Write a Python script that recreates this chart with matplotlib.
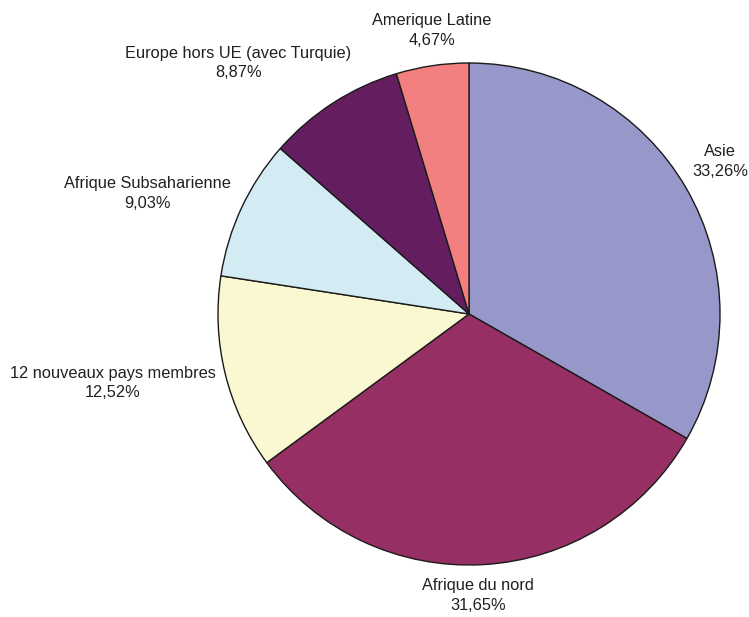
import matplotlib
matplotlib.use("Agg")
import matplotlib.pyplot as plt
import numpy as np

categories = ["Asie", "Afrique du nord", "12 nouveaux pays membres",
              "Afrique Subsaharienne", "Europe hors UE (avec Turquie)", "Amerique Latine"]
values = [33.26, 31.65, 12.52, 9.03, 8.87, 4.67]
value_labels = ["33,26%", "31,65%", "12,52%", "9,03%", "8,87%", "4,67%"]

colors = ["#9797C9", "#963064", "#FAF8D0", "#D3ECF4", "#641E60", "#F28080"]
# label placement style (offset from pie centre, in radius units)
label_pos = [(1.0, 0.606), (0.036, -1.12), (-1.42, -0.275),
             (-1.28, 0.48), (-0.92, 1.0), (-0.147, 1.13)]

plt.rcParams['font.family'] = ['Liberation Sans', 'DejaVu Sans']

W, H = 749, 617
fig = plt.figure(figsize=(W / 100, H / 100), dpi=100)
cx, cy, r = 469, 314, 251
ax = fig.add_axes([(cx - r) / W, (H - cy - r) / H, 2 * r / W, 2 * r / H])

wedges, _ = ax.pie(values, colors=colors, startangle=90, counterclock=False,
                   wedgeprops=dict(edgecolor="#1a1a1a", linewidth=1.0))
ax.set_xlim(-1, 1)
ax.set_ylim(-1, 1)
ax.set_aspect("equal")
ax.axis("off")

for cat, vl, (x, y) in zip(categories, value_labels, label_pos):
    ax.text(x, y, f"{cat}\n{vl}", ha="center", va="center", fontsize=11.8,
            color="#231F20", linespacing=1.4, clip_on=False)

fig.savefig("out.png", dpi=100)
